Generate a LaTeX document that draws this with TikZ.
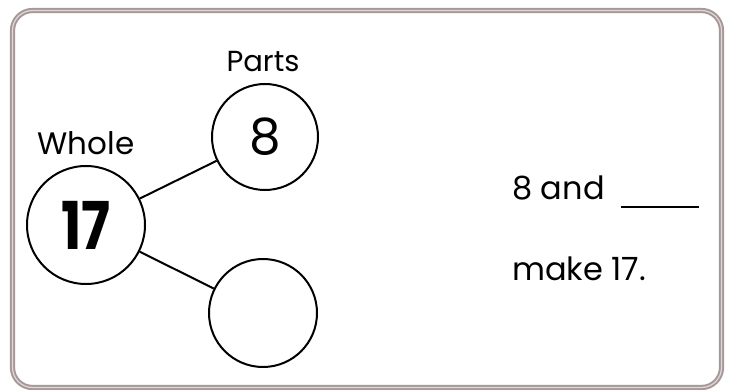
\documentclass[tikz,border=0pt]{standalone}
\usepackage{fontspec}
\setmainfont{Poppins}
\definecolor{framec}{RGB}{166,152,152}
\definecolor{framein}{RGB}{224,216,216}
\begin{document}
\begin{tikzpicture}[x=1pt,y=-1pt,
  bubble/.style={circle,draw=black,line width=2pt,inner sep=0pt},
  link/.style={draw=black,line width=2pt},
  lbl/.style={anchor=base,inner sep=0pt}]
\useasboundingbox (0,0) rectangle (734,390);
\fill[white] (0,0) rectangle (734,390);
\draw[framec,line width=2pt,double=framein,double distance=1.2pt,rounded corners=20pt]
  (12.5,10.5) rectangle (721.5,387.5);
\node[bubble,minimum size=118pt] (whole) at (86,225) {\fontsize{66}{66}\selectfont\bfseries\scalebox{0.82}[1]{17}};
\node[bubble,minimum size=106pt] (p1) at (265,137) {\fontsize{50}{50}\selectfont 8};
\node[bubble,minimum size=108pt] (p2) at (263,313) {};
\draw[link] (whole) -- (p1);
\draw[link] (whole) -- (p2);
\node[lbl,font=\fontsize{31}{31}\selectfont] (wl) at (86,155) {Whole};
\node[lbl,font=\fontsize{29}{29}\selectfont] (pl) at (263,72) {Parts};
\node[lbl,anchor=base west,font=\fontsize{32}{32}\selectfont] (t1) at (512,200) {8 and\hspace{16pt}\rule[-8pt]{78pt}{2pt}};
\node[lbl,anchor=base west,font=\fontsize{32}{32}\selectfont] (t2) at (512,280) {make 17.};
\end{tikzpicture}
\end{document}
